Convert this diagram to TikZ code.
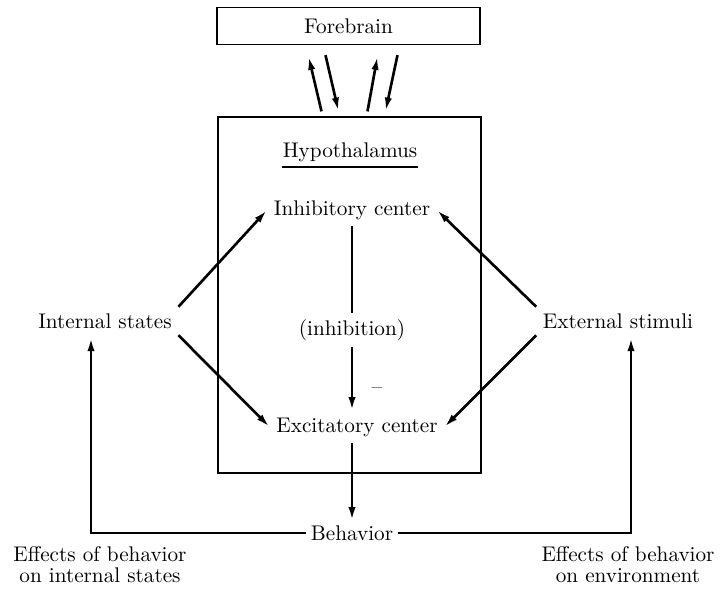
\documentclass[tikz,border=0pt]{standalone}
\usepackage{tikz}
\usetikzlibrary{arrows.meta, positioning}
\newcommand\pxu{0.4717pt}

\begin{document}
\begin{tikzpicture}[
    x=\pxu, y=-\pxu,
    %% plain text label
    lab/.style  = {inner sep=3pt, align=center},
    %% outlined box
    box/.style  = {rectangle, draw, line width=0.6pt},
    arr/.style  = {-{Latex[length=6.5pt,width=3.4pt]}, line width=1.25pt},
    ln/.style   = {line width=1.25pt},
]
\useasboundingbox (0,0) rectangle (723,590);

%% ---- boxes ----
\node[box, minimum width=263*\pxu, minimum height=37*\pxu] (fore) at (348.5,26) {Forebrain};
\node[box, minimum width=263*\pxu, minimum height=356*\pxu] (hyp) at (349.5,295) {};

\node[inner sep=0pt] (hyplab) at (350,152) {Hypothalamus};
\draw[line width=1pt] ([yshift=-2.5pt]hyplab.south west) -- ([yshift=-2.5pt]hyplab.south east);

%% ---- forebrain <-> hypothalamus ----
\draw[arr] ([xshift=-28*\pxu,yshift=5*\pxu]hyp.north)  -- ([xshift=-40*\pxu,yshift=-11*\pxu]fore.south);
\draw[arr] ([xshift=-23*\pxu,yshift=-10*\pxu]fore.south) -- ([xshift=-11*\pxu,yshift=5*\pxu]hyp.north);
\draw[arr] ([xshift=18*\pxu,yshift=5*\pxu]hyp.north)   -- ([xshift=29*\pxu,yshift=-11*\pxu]fore.south);
\draw[arr] ([xshift=49*\pxu,yshift=-10*\pxu]fore.south)  -- ([xshift=36*\pxu,yshift=5*\pxu]hyp.north);

%% ---- centres ----
\node[lab] (inh)   at (352,210) {Inhibitory center};
\node[lab] (inhib) at (352,330) {(inhibition)};
\node[lab] (exc)   at (357,427) {Excitatory center};
\node[lab] (minus) at (377,391) {--};

\node[lab] (inst) at (105,321) {Internal states};
\node[lab] (ext)  at (618,321) {External stimuli};

%% inputs to the centres
\draw[arr] (inst.north east) -- (inh.west);
\draw[arr] (inst.south east) -- (exc.west);
\draw[arr] (ext.north west)  -- (inh.east);
\draw[arr] (ext.south west)  -- (exc.east);

%% inhibition
\draw[ln]  (inh.south)   -- (inhib.north);
\draw[arr] (inhib.south) -- ([xshift=-5*\pxu]exc.north);

%% ---- behavior and feedback ----
\node[lab, inner sep=2pt] (beh) at (352,533) {Behavior};
\draw[arr] ([xshift=-5*\pxu]exc.south) -- (beh.north);

\coordinate (lc) at (91,533);
\coordinate (rc) at (631,533);
\draw[arr, shorten >=1pt] (beh.west) -- (lc) -- (lc |- inst.south);
\draw[arr, shorten >=1pt] (beh.east) -- (rc) -- (rc |- ext.south);

\node[lab] (effin)  at (100,565) {Effects of behavior\\[-2pt]on internal states};
\node[lab] (effenv) at (628,565) {Effects of behavior\\[-2pt]on environment};

\end{tikzpicture}
\end{document}
